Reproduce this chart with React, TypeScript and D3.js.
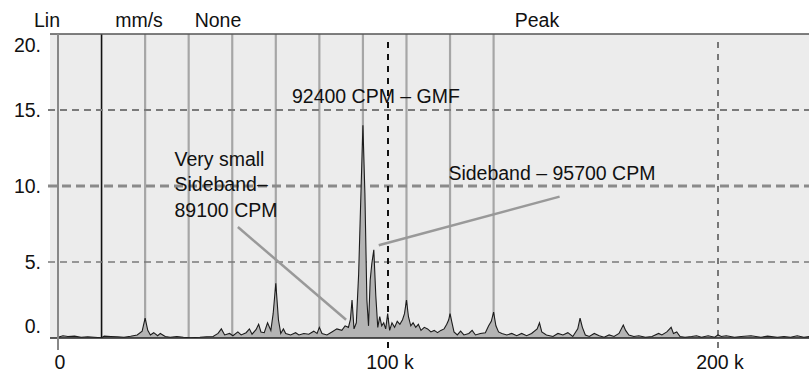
import { useMemo } from "react";
import { area, line, scaleLinear } from "d3";

const WIDTH = 809;
const HEIGHT = 372;

// spectrum, frequency in k CPM, amplitude in mm/s
const freqK = [
  0, 1.5, 3, 5, 7, 9, 11, 13.2, 14, 16, 18, 20, 22, 24, 25.5, 26.4, 27.2, 28, 29, 30.2, 31, 32.5, 34, 36, 38,
  40, 43, 45, 47, 48.5, 49.5, 50.5, 52, 53, 54.5, 55.5, 57, 58, 58.8, 60, 60.8, 61.5, 62.5, 63.5, 64.5, 65.2, 66.0,
  66.8, 67.5, 68.3, 69, 70.5, 72, 73, 74.5, 76, 77.5, 78.5, 79.2, 80, 81.5, 83, 84.5, 86, 87, 88, 88.6, 89.1, 89.7,
  90.4, 91.1, 91.8, 92.4, 93.0, 93.6, 94.1, 94.6, 95.1, 95.7, 96.3, 96.9, 97.5, 98.1, 98.7, 99.3, 99.9, 100.5,
  101.2, 102, 102.8, 103.6, 104.4, 105.0, 105.6, 106.2, 106.9, 107.6, 108.4, 109.2, 110, 111, 112, 113, 114, 115,
  116, 117, 117.8, 118.4, 118.8, 119.4, 120, 121, 122, 123, 124.5, 125.5, 126.5, 128, 129.5, 130.5, 131.3, 132,
  132.7, 133.5, 134.5, 136, 137.5, 139, 140.5, 142, 143.5, 145.2, 145.9, 146.6, 148, 150, 151.5, 153, 154.5, 156,
  157.5, 158.2, 158.9, 159.8, 161, 162.5, 164, 165.5, 167, 168.5, 170, 171.3, 172, 173, 174.5, 176, 178, 180, 182,
  183, 184.5, 185.8, 186.5, 187.5, 188.5, 190, 192, 193.5, 195, 197, 199, 200, 201, 202.5, 205, 207, 210, 213, 215,
  218, 220, 222, 224, 226, 228,
];
const amplitude = [
  0.05, 0.15, 0.1, 0.12, 0.05, 0.08, 0.05, 0.02, 0.12, 0.1, 0.08, 0.05, 0.12, 0.2, 0.45, 1.3, 0.5, 0.2, 0.35, 0.15, 0.3, 0.1, 0.05, 0.1, 0.05,
  0.02, 0.05, 0.08, 0.1, 0.3, 0.6, 0.2, 0.3, 0.15, 0.4, 0.2, 0.35, 0.6, 0.25, 0.55, 0.9, 0.4, 0.35, 1.0, 0.5, 1.6, 3.6,
  1.2, 0.3, 0.6, 0.3, 0.2, 0.35, 0.2, 0.3, 0.25, 0.45, 0.3, 0.7, 0.3, 0.2, 0.4, 0.6, 0.5, 0.8, 0.7, 1.2, 2.5, 0.6,
  1.0, 4.2, 9.5, 14.0, 9.5, 2.5, 0.8, 3.8, 4.9, 5.8, 2.8, 0.7, 1.4, 0.8, 1.0, 0.6, 1.6, 0.5,
  1.0, 0.7, 1.1, 0.9, 1.2, 1.6, 2.5, 1.4, 0.8, 1.0, 0.7, 0.9, 0.5, 0.7, 0.6, 0.4, 0.5, 0.35,
  0.5, 0.6, 0.9, 1.2, 1.6, 1.0, 0.4, 0.2, 0.45, 0.2, 0.3, 0.5, 0.2, 0.3, 0.35, 0.8, 1.1, 1.7,
  0.8, 0.4, 0.3, 0.2, 0.3, 0.15, 0.3, 0.15, 0.3, 0.6, 1.0, 0.4, 0.2, 0.1, 0.3, 0.2, 0.35, 0.1,
  0.6, 1.3, 0.7, 0.2, 0.1, 0.3, 0.15, 0.05, 0.2, 0.1, 0.3, 0.85, 0.5, 0.2, 0.1, 0.15, 0.05, 0.1, 0.3,
  0.2, 0.4, 0.7, 0.3, 0.4, 0.1, 0.05, 0.1, 0.15, 0.05, 0.15, 0.05, 0.2, 0.1, 0.15, 0.05, 0.1, 0.15, 0.05, 0.12,
  0.05, 0.1, 0.05, 0.15, 0.05, 0.1,
];

// harmonic cursor lines (k CPM), first one is the fundamental
const harmonicsK = [13.2, 26.4, 39.6, 52.8, 66.0, 79.2, 92.4, 105.6, 118.8, 132.0];
const yTicks = [0, 5, 10, 15, 20];
const yTickLabels = ["0.", "5.", "10.", "15.", "20."];
const xTicks = [0, 100, 200];
const xTickLabels = ["0", "100 k", "200 k"];
const headerLabels = ["Lin", "mm/s", "None", "Peak"];

export default function App() {
  const x = useMemo(() => scaleLinear().domain([0, 200]).range([58, 718]), []);
  const y = useMemo(() => scaleLinear().domain([0, 20]).range([338, 34]), []);
  const pts = freqK.map((f, i) => [f, amplitude[i]] as [number, number]);
  const linePath = line<[number, number]>().x((d) => x(d[0])).y((d) => y(d[1]))(pts) ?? "";
  const areaPath = area<[number, number]>().x((d) => x(d[0])).y0(y(0)).y1((d) => y(d[1]))(pts) ?? "";
  const font = "'Liberation Sans', Arial, Helvetica, sans-serif";
  const headerX = [47, 139, 218, 537];
  const fs = 19.5;

  return (
    <svg width={WIDTH} height={HEIGHT} style={{ position: "absolute", left: 0, top: 0, background: "#fff" }} fontFamily={font}>
      <defs>
        <clipPath id="plot">
          <rect x={50} y={y(20)} width={WIDTH - 50} height={y(0) - y(20)} />
        </clipPath>
      </defs>
      <rect x={50} y={y(20)} width={WIDTH - 50} height={y(0) - y(20)} fill="#ececec" />

      {/* harmonic cursors */}
      {harmonicsK.map((h, i) => (
        <line key={h} x1={x(h)} x2={x(h)} y1={y(20)} y2={y(0)} stroke={i === 0 ? "#111" : "#a6a6a6"} strokeWidth={i === 0 ? 1.6 : 2.2} />
      ))}

      {/* horizontal dashed grid */}
      {yTicks.filter((t) => t > 0 && t < 20).map((t) => (
        <line key={t} x1={48} x2={WIDTH} y1={y(t)} y2={y(t)} stroke={t === 10 ? "#8a8a8a" : "#7a7a7a"}
          strokeWidth={t === 10 ? 3 : t === 15 ? 2 : 1.4} strokeDasharray={t === 10 ? "9 5" : "7 5"} />
      ))}

      {/* vertical dashed at 100k / 200k */}
      {xTicks.filter((t) => t > 0).map((t) => (
        <line key={t} x1={x(t)} x2={x(t)} y1={y(20) + 8} y2={y(0) + 14} stroke={t === 100 ? "#111" : "#777"}
          strokeWidth={2} strokeDasharray="6 6" />
      ))}

      <g clipPath="url(#plot)">
        <path d={areaPath} fill="#b4b4b4" />
        <path d={linePath} fill="none" stroke="#1c1c1c" strokeWidth={1.1} />
      </g>

      {/* axes */}
      <line x1={50} x2={WIDTH} y1={y(20)} y2={y(20)} stroke="#555" strokeWidth={1.5} />
      <line x1={50} x2={WIDTH} y1={y(0)} y2={y(0)} stroke="#222" strokeWidth={1.5} />
      <line x1={x(0)} x2={x(0)} y1={y(20)} y2={y(0) + 12} stroke="#888" strokeWidth={2} />

      {yTicks.map((t, i) => (
        <text key={t} x={41} y={y(t) + (t === 20 ? 11 : t === 0 ? -12 : 0)} dy="0.35em" textAnchor="end" fontSize={fs} fill="#111">
          {yTickLabels[i]}
        </text>
      ))}
      {xTicks.map((t, i) => (
        <text key={t} x={x(t) + 2} y={369} textAnchor="middle" fontSize={fs} fill="#111">
          {xTickLabels[i]}
        </text>
      ))}
      {headerLabels.map((l, i) => (
        <text key={l} x={headerX[i]} y={27} textAnchor="middle" fontSize={fs} fill="#111">{l}</text>
      ))}

      {/* annotations */}
      <line x1={x(54.5)} y1={y(7.3)} x2={x(87.3)} y2={y(1.2)} stroke="#999" strokeWidth={2.5} />
      <line x1={x(97.2)} y1={y(6.1)} x2={x(152)} y2={y(9.3)} stroke="#999" strokeWidth={2.5} />
      <text x={x(70.9)} y={103} fontSize={fs} fill="#111">92400 CPM – GMF</text>
      <text x={x(35.3)} y={166} fontSize={fs} fill="#111">Very small</text>
      <text x={x(35.3)} y={191} fontSize={fs} fill="#111">Sideband–</text>
      <text x={x(35.3)} y={217} fontSize={fs} fill="#111">89100 CPM</text>
      <text x={x(118.3)} y={180} fontSize={fs} fill="#111">Sideband – 95700 CPM</text>
    </svg>
  );
}
